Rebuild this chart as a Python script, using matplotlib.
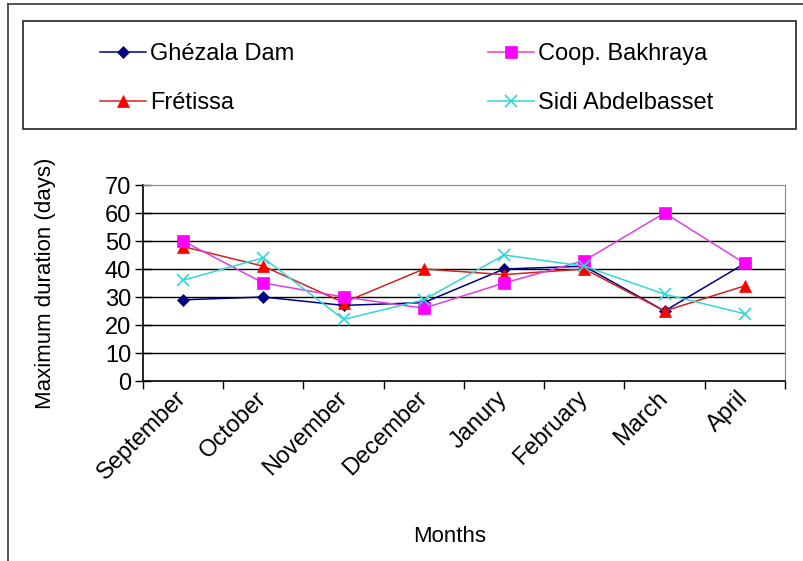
import matplotlib
matplotlib.use('Agg')
import matplotlib.pyplot as plt
from matplotlib.lines import Line2D
from matplotlib.patches import Rectangle

plt.rcParams['font.family'] = ['Liberation Sans', 'DejaVu Sans']

# Monthly maximum duration (days) per site
months = ['September', 'October', 'November', 'December', 'Janury',
          'February', 'March', 'April']
ghezala = [29, 30, 27, 28, 40, 41, 25, 42]
coop = [50, 35, 30, 26, 35, 43, 60, 42]
fretissa = [48, 41, 28, 40, 38, 40, 25, 34]
sidi = [36, 44, 22, 29, 45, 41, 31, 24]
y_ticks = [0, 10, 20, 30, 40, 50, 60, 70]

W, H = 804, 561
fig = plt.figure(figsize=(W / 100, H / 100), dpi=100)
fig.patch.set_facecolor('white')

# axes placed in pixel terms
x0, x1, y0, y1 = 143, 785, 381, 185
ax = fig.add_axes([x0 / W, 1 - y0 / H, (x1 - x0) / W, (y0 - y1) / H])

x = list(range(len(months)))
series = [
    ('Ghézala Dam', ghezala, '#000080', '#000080', 'D', 6.5),
    ('Frétissa', fretissa, '#d42020', '#ff0000', '^', 9),
    ('Coop. Bakhraya', coop, '#e040e0', '#ff00ff', 's', 9),
    ('Sidi Abdelbasset', sidi, '#33d6d6', '#33d6d6', 'x', 9),
]
handles = []
for name, vals, lc, mc, mk, ms in series:
    h, = ax.plot(x, vals, color=lc, lw=1.1, marker=mk, ms=ms,
                 markerfacecolor=mc, markeredgecolor=mc, mew=1.2 if mk == 'x' else 0.5,
                 label=name, zorder=3)
    handles.append(h)

ax.set_xlim(-0.5, len(months) - 0.5)
ax.set_ylim(0, 70)
ax.set_yticks(y_ticks)
ax.tick_params(axis='y', direction='inout', length=11, width=1, labelsize=17, pad=3)
for v in y_ticks[1:-1]:
    ax.axhline(v, color='black', lw=1, zorder=1)

ax.set_xticks(x)
ax.set_xticklabels(months, rotation=45, ha='right', va='center',
                   rotation_mode='anchor', fontsize=17)
ax.tick_params(axis='x', which='major', length=0, pad=10)
ax.set_xticks([i - 0.5 for i in range(len(months) + 1)], minor=True)
ax.tick_params(axis='x', which='minor', direction='out', length=6, width=1)

for s in ['top', 'right']:
    ax.spines[s].set_color('#888888')
for s in ['left', 'bottom']:
    ax.spines[s].set_color('black')
    ax.spines[s].set_linewidth(1.2)

ax.set_ylabel('Maximum duration (days)', fontsize=16)
ax.yaxis.set_label_coords(-0.135, 0.5)
ax.set_xlabel('Months', fontsize=16)
ax.xaxis.set_label_coords(0.478, -0.74)

# legend box across the top
fig.add_artist(Rectangle((23 / W, 1 - 129 / H), (796 - 23) / W, (129 - 21) / H,
                         transform=fig.transFigure, fill=False,
                         edgecolor='#333333', lw=1.3))
fig.legend(handles=handles, ncol=2, loc='upper left',
           bbox_to_anchor=(100 / W, 1 - 43 / H), frameon=False,
           fontsize=17, handlelength=1.95, handletextpad=0.17,
           columnspacing=8.2, labelspacing=1.15, borderpad=0, borderaxespad=0)

# outer frame (top and left edges)
fig.add_artist(Line2D([8 / W, 1], [1 - 4 / H, 1 - 4 / H], transform=fig.transFigure,
                      color='#444444', lw=1.3))
fig.add_artist(Line2D([8 / W, 8 / W], [0, 1 - 4 / H], transform=fig.transFigure,
                      color='#444444', lw=1.3))

fig.savefig('out.png', dpi=100, facecolor='white')
